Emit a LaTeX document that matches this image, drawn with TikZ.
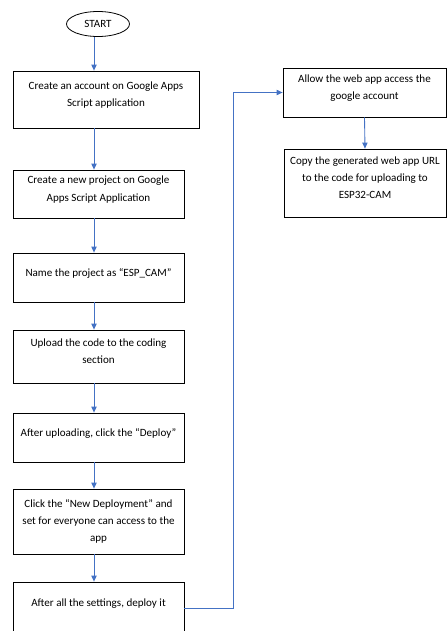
\documentclass[tikz,border=0pt]{standalone}
\usepackage{fontspec}
\setmainfont{Carlito}
\definecolor{flowblue}{RGB}{68,114,196}
\usetikzlibrary{arrows.meta,positioning,shapes.geometric}
\newcommand{\lowgap}{\\[-5pt]\mbox{}}
\tikzset{
  procbox/.style={draw=black, line width=0.6pt, align=center, inner sep=0pt, font=\fontsize{8.3}{13}\selectfont},
  startnode/.style={draw=black, line width=0.6pt, ellipse, inner sep=0pt, minimum width=47.25pt, minimum height=18.75pt, font=\fontsize{8.3}{13}\selectfont},
  flowarrow/.style={draw=flowblue, line width=0.65pt, -{Triangle[length=4.5pt,width=4pt]}}
}

\begin{document}
\begin{tikzpicture}[x=0.75pt, y=-0.75pt]
  \useasboundingbox (0,0) rectangle (447,631);
  \coordinate (spine) at (94,0);

  %% Left column
  \node[startnode] (start) at (98,24) {START};
  \node[procbox, minimum width=139.5pt, minimum height=42.75pt] (acct) at (106,99.5) {Create an account on Google Apps\\Script application\lowgap};
  \node[procbox, minimum width=128.25pt, minimum height=36pt] (proj) at (98.5,194) {Create a new project on Google\\Apps Script Application\lowgap};
  \node[procbox, minimum width=128.25pt, minimum height=36.75pt] (name) at (98.5,277.5) {Name the project as ``ESP\_CAM''\lowgap};
  \node[procbox, minimum width=128.25pt, minimum height=39.75pt] (upload) at (98.5,356.5) {Upload the code to the coding\\section\lowgap};
  \node[procbox, minimum width=128.25pt, minimum height=36.75pt] (deploy) at (98.5,437.5) {After uploading, click the ``Deploy''\lowgap};
  \node[procbox, minimum width=128.25pt, minimum height=48.75pt] (newdep) at (98.5,521.5) {Click the ``New Deployment'' and\\set for everyone can access to the\\app};
  \node[procbox, minimum width=128.25pt, minimum height=39pt] (final) at (98.5,608) {After all the settings, deploy it\lowgap};

  %% Right column
  \node[procbox, minimum width=122.25pt, minimum height=36.75pt] (allow) at (364.5,92.5) {Allow the web app access the\\google account\lowgap};
  \node[procbox, minimum width=121.5pt, minimum height=51pt] (copy) at (365,183) {Copy the generated web app URL\\to the code for uploading to\\ESP32-CAM\lowgap};

  %% Connectors
  \draw[flowarrow] (start.south -| spine) -- (acct.north -| spine);
  \draw[flowarrow] (acct.south -| spine) -- (proj.north -| spine);
  \draw[flowarrow] (proj.south -| spine) -- (name.north -| spine);
  \draw[flowarrow] (name.south -| spine) -- (upload.north -| spine);
  \draw[flowarrow] (upload.south -| spine) -- (deploy.north -| spine);
  \draw[flowarrow] (deploy.south -| spine) -- (newdep.north -| spine);
  \draw[flowarrow] (newdep.south -| spine) -- (final.north -| spine);
  \draw[flowarrow] (final.east) -- ++(49,0) |- (allow.west);
  \draw[flowarrow] (allow.south) -- (copy.north);
\end{tikzpicture}
\end{document}
